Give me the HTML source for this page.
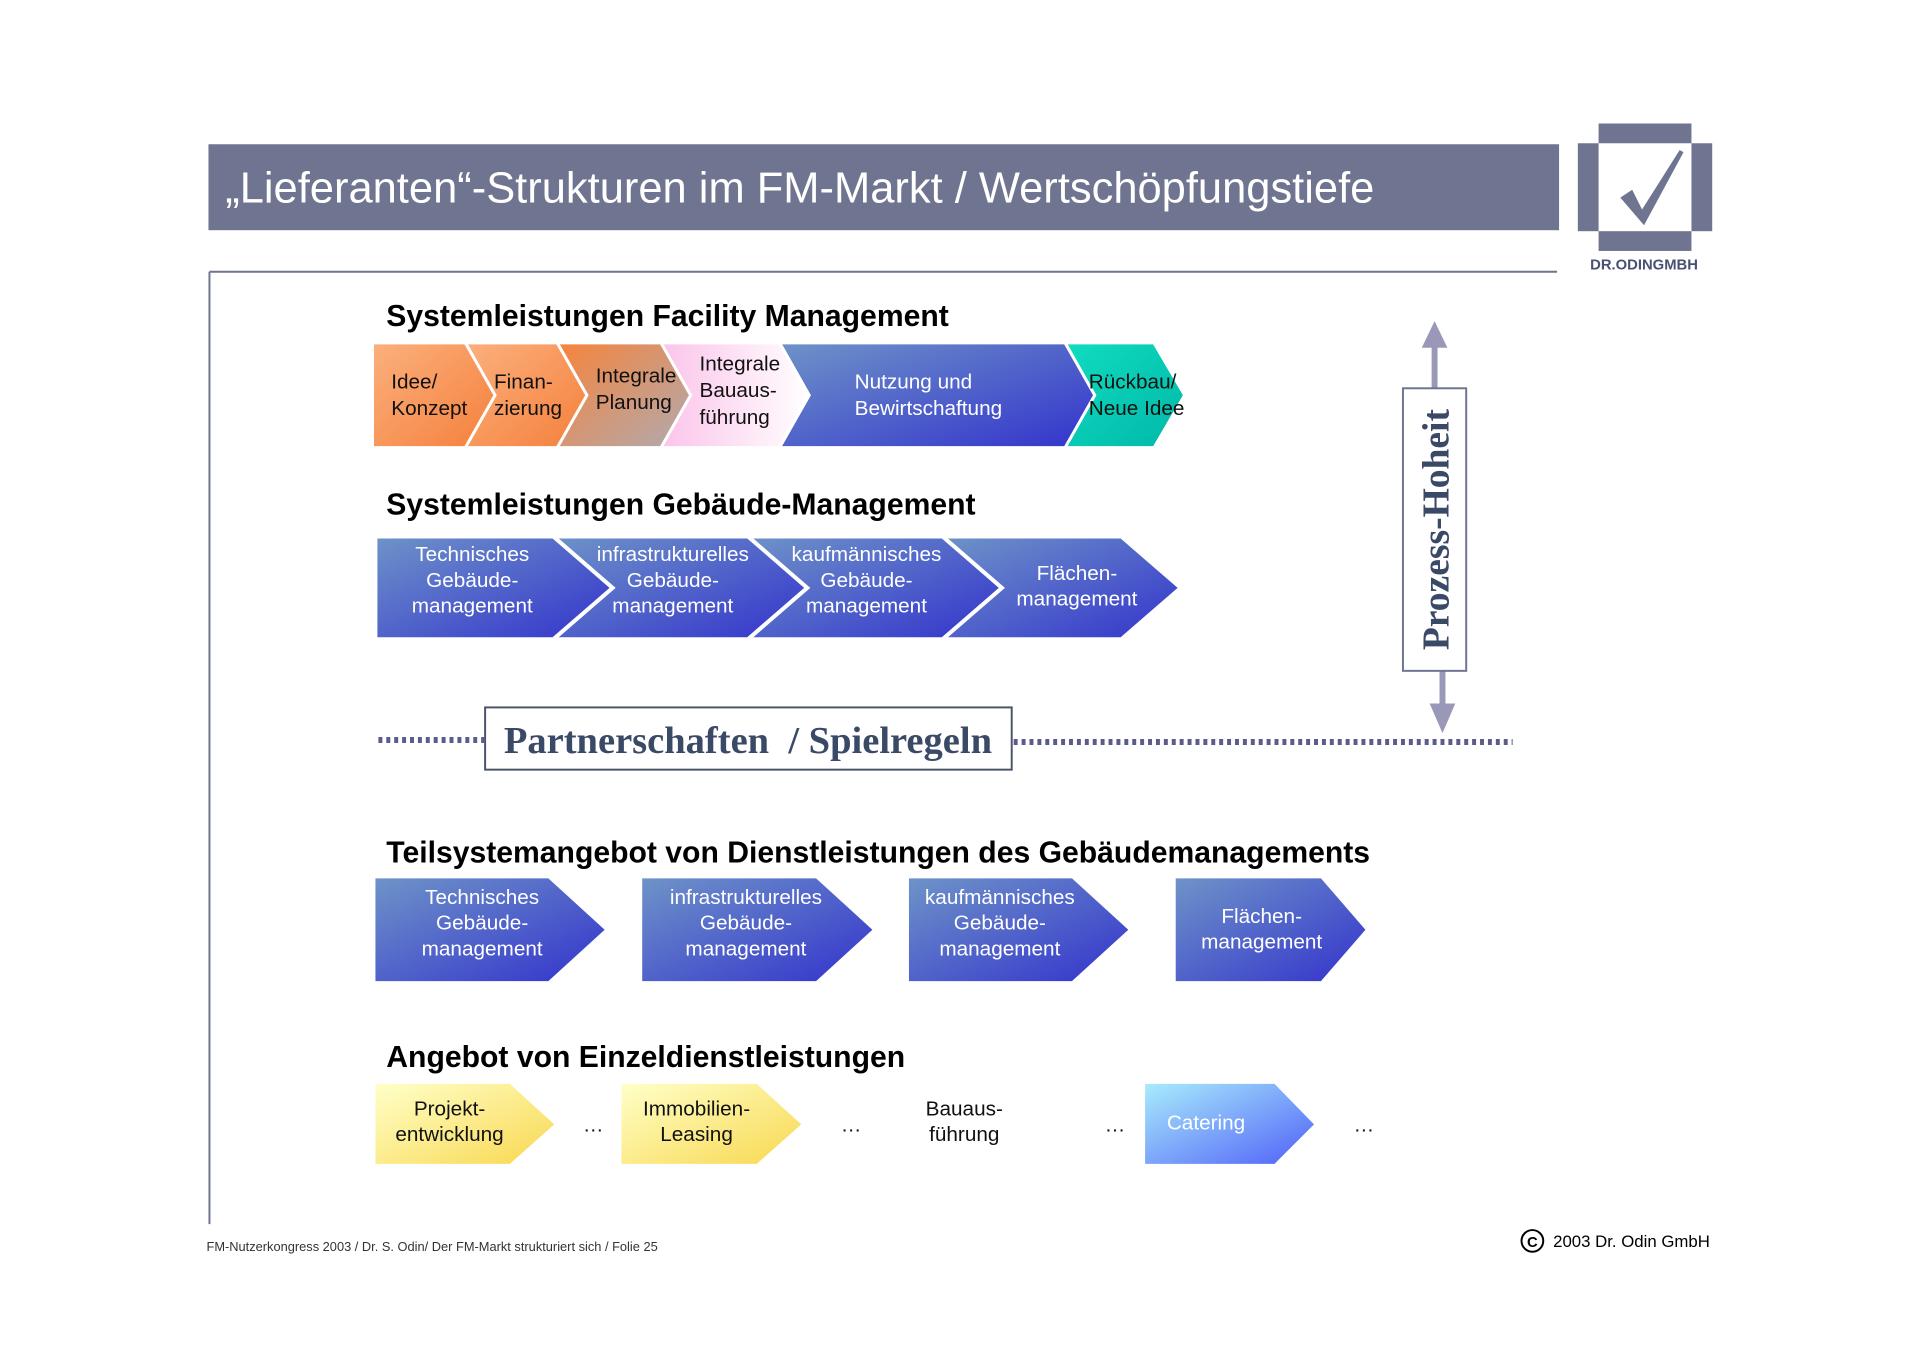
<!DOCTYPE html>
<html><head><meta charset="utf-8"><style>
html,body{margin:0;padding:0;background:#fff;}
svg{display:block;}
.w{fill:#fff;font-size:21px;font-family:"Liberation Sans",sans-serif;}
.k{fill:#111;font-size:21px;font-family:"Liberation Sans",sans-serif;}
.h{font-weight:bold;font-size:30.5px;fill:#000;font-family:"Liberation Sans",sans-serif;}
.s{font-family:"Liberation Sans",sans-serif;}
.serif{font-family:"Liberation Serif",serif;font-weight:bold;fill:#3a4a66;}
</style></head><body>
<svg width="1920" height="1357" viewBox="0 0 1920 1357" xmlns="http://www.w3.org/2000/svg">
<defs>
<linearGradient id="blue" x1="0" y1="0" x2="1" y2="1"><stop offset="0" stop-color="#6e93c8"/><stop offset="1" stop-color="#3333cc"/></linearGradient>
<linearGradient id="or1" x1="0" y1="0" x2="1" y2="1"><stop offset="0" stop-color="#fbb07e"/><stop offset="1" stop-color="#f5803b"/></linearGradient>
<linearGradient id="or3" x1="0" y1="0" x2="1" y2="1"><stop offset="0" stop-color="#f6843c"/><stop offset="1" stop-color="#b0aab0"/></linearGradient>
<linearGradient id="pink" x1="0" y1="0" x2="1" y2="0"><stop offset="0" stop-color="#fbc4ea"/><stop offset="1" stop-color="#ffffff"/></linearGradient>
<linearGradient id="teal" x1="0" y1="0" x2="1" y2="1"><stop offset="0" stop-color="#10dcc0"/><stop offset="1" stop-color="#00b8a8"/></linearGradient>
<linearGradient id="yel" x1="0" y1="0" x2="1" y2="1"><stop offset="0" stop-color="#ffffc8"/><stop offset="1" stop-color="#f8d850"/></linearGradient>
<linearGradient id="cyan" x1="0" y1="0" x2="1" y2="1"><stop offset="0" stop-color="#a8ecfc"/><stop offset="1" stop-color="#5060f8"/></linearGradient>
</defs>
<g transform="scale(0.988)">
<!-- title bar -->
<rect x="211" y="146" width="1367" height="87" fill="#6f7490"/>
<text x="228" y="205" fill="#fff" font-size="44" class="s" style="font-size:44px">„Lieferanten“-Strukturen im FM-Markt / Wertschöpfungstiefe</text>
<!-- logo -->
<rect x="1618" y="125" width="94" height="129" fill="#6f7490"/>
<rect x="1597" y="145" width="136" height="89" fill="#6f7490"/>
<rect x="1618" y="145" width="94" height="89" fill="#fff"/>
<path d="M1640 200 L1652 192 L1662 212 L1700 152 L1704 154 L1664 228 Z" fill="#6f7490"/>
<text x="1664" y="273" text-anchor="middle" class="s" style="font-size:15px;font-weight:bold" fill="#4a5070">DR.ODINGMBH</text>
<!-- frame lines -->
<line x1="212" y1="275" x2="1576" y2="275" stroke="#6f7490" stroke-width="2"/>
<line x1="212" y1="275" x2="212" y2="1239" stroke="#6f7490" stroke-width="2"/>
<!-- section 1 -->
<text x="391" y="330" class="h">Systemleistungen Facility Management</text>
<g stroke="#fff" stroke-width="3">
<polygon points="1078,347 1168,347 1199,400 1168,453 1078,453 1108,400" fill="url(#teal)"/>
<polygon points="789,347 1078,347 1108,400 1078,453 789,453 819,400" fill="url(#blue)"/>
<polygon points="669,347 789,347 819,400 789,453 669,453 699,400" fill="url(#pink)"/>
<polygon points="564,347 669,347 699,400 669,453 564,453 594,400" fill="url(#or3)"/>
<polygon points="471,347 564,347 594,400 564,453 471,453 501,400" fill="url(#or1)"/>
<polygon points="377,347 471,347 501,400 471,453 377,453" fill="url(#or1)"/>
</g>
<text class="k"><tspan x="396" y="393">Idee/</tspan><tspan x="396" y="420">Konzept</tspan></text>
<text class="k"><tspan x="500" y="393">Finan-</tspan><tspan x="500" y="420">zierung</tspan></text>
<text class="k"><tspan x="603" y="387">Integrale</tspan><tspan x="603" y="414">Planung</tspan></text>
<text class="k"><tspan x="708" y="375">Integrale</tspan><tspan x="708" y="402">Bauaus-</tspan><tspan x="708" y="429">führung</tspan></text>
<text class="w"><tspan x="865" y="393">Nutzung und</tspan><tspan x="865" y="420">Bewirtschaftung</tspan></text>
<text class="k"><tspan x="1102" y="393">Rückbau/</tspan><tspan x="1102" y="420">Neue Idee</tspan></text>
<!-- section 2 -->
<text x="391" y="521" class="h">Systemleistungen Gebäude-Management</text>
<g stroke="#fff" stroke-width="4">
<polygon points="954,543 1135,543 1195,595 1135,647 954,647 1014,595" fill="url(#blue)"/>
<polygon points="757,543 954,543 1014,595 954,647 757,647 817,595" fill="url(#blue)"/>
<polygon points="560,543 757,543 817,595 757,647 560,647 620,595" fill="url(#blue)"/>
<polygon points="380,543 560,543 620,595 560,647 380,647" fill="url(#blue)"/>
</g>
<text class="w" text-anchor="middle"><tspan x="478" y="568">Technisches</tspan><tspan x="478" y="594">Gebäude-</tspan><tspan x="478" y="620">management</tspan></text>
<text class="w" text-anchor="middle"><tspan x="681" y="568">infrastrukturelles</tspan><tspan x="681" y="594">Gebäude-</tspan><tspan x="681" y="620">management</tspan></text>
<text class="w" text-anchor="middle"><tspan x="877" y="568">kaufmännisches</tspan><tspan x="877" y="594">Gebäude-</tspan><tspan x="877" y="620">management</tspan></text>
<text class="w" text-anchor="middle"><tspan x="1090" y="587">Flächen-</tspan><tspan x="1090" y="613">management</tspan></text>
<!-- partnerschaften -->
<line x1="383" y1="749" x2="490" y2="749" stroke="#5a5c8c" stroke-width="6" stroke-dasharray="4,4"/>
<line x1="1026" y1="751" x2="1531" y2="751" stroke="#5a5c8c" stroke-width="6" stroke-dasharray="4,4"/>
<rect x="491" y="716" width="533" height="63" fill="#fff" stroke="#4a5468" stroke-width="2"/>
<text x="757" y="762" text-anchor="middle" class="serif" style="font-size:39px" xml:space="preserve">Partnerschaften  / Spielregeln</text>
<!-- Prozess-Hoheit -->
<line x1="1452" y1="345" x2="1452" y2="394" stroke="#9a98b8" stroke-width="6"/>
<polygon points="1439,352 1452,325 1465,352" fill="#9a98b8"/>
<line x1="1460" y1="679" x2="1460" y2="720" stroke="#9a98b8" stroke-width="6"/>
<polygon points="1447,712 1460,742 1473,712" fill="#9a98b8"/>
<rect x="1420" y="393" width="64" height="286" fill="#fff" stroke="#6f7490" stroke-width="2"/>
<text transform="translate(1466,536) rotate(-90)" text-anchor="middle" class="serif" style="font-size:38px">Prozess-Hoheit</text>
<!-- section 3 -->
<text x="391" y="873" class="h">Teilsystemangebot von Dienstleistungen des Gebäudemanagements</text>
<g fill="url(#blue)">
<polygon points="380,889 555,889 612,941 555,993 380,993"/>
<polygon points="650,889 826,889 883,941 826,993 650,993"/>
<polygon points="920,889 1085,889 1142,941 1085,993 920,993"/>
<polygon points="1190,889 1337,889 1382,941 1337,993 1190,993"/>
</g>
<text class="w" text-anchor="middle"><tspan x="488" y="915">Technisches</tspan><tspan x="488" y="941">Gebäude-</tspan><tspan x="488" y="967">management</tspan></text>
<text class="w" text-anchor="middle"><tspan x="755" y="915">infrastrukturelles</tspan><tspan x="755" y="941">Gebäude-</tspan><tspan x="755" y="967">management</tspan></text>
<text class="w" text-anchor="middle"><tspan x="1012" y="915">kaufmännisches</tspan><tspan x="1012" y="941">Gebäude-</tspan><tspan x="1012" y="967">management</tspan></text>
<text class="w" text-anchor="middle"><tspan x="1277" y="934">Flächen-</tspan><tspan x="1277" y="960">management</tspan></text>
<!-- section 4 -->
<text x="391" y="1080" class="h">Angebot von Einzeldienstleistungen</text>
<polygon points="380,1097 516,1097 561,1138 516,1178 380,1178" fill="url(#yel)"/>
<polygon points="629,1097 766,1097 811,1138 766,1178 629,1178" fill="url(#yel)"/>
<polygon points="1159,1097 1290,1097 1330,1138 1290,1178 1159,1178" fill="url(#cyan)"/>
<text class="k" text-anchor="middle"><tspan x="455" y="1129">Projekt-</tspan><tspan x="455" y="1155">entwicklung</tspan></text>
<text class="k" text-anchor="middle"><tspan x="705" y="1129">Immobilien-</tspan><tspan x="705" y="1155">Leasing</tspan></text>
<text class="k" text-anchor="middle"><tspan x="976" y="1129">Bauaus-</tspan><tspan x="976" y="1155">führung</tspan></text>
<text x="1181" y="1143" class="w">Catering</text>
<text x="590" y="1145" class="k">…</text><text x="851" y="1145" class="k">…</text><text x="1118" y="1145" class="k">…</text><text x="1370" y="1145" class="k">…</text>
<!-- footer -->
<text x="209" y="1266" class="s" style="font-size:13px" fill="#333">FM-Nutzerkongress 2003 / Dr. S. Odin/ Der FM-Markt strukturiert sich / Folie 25</text>
<circle cx="1551" cy="1256" r="11" fill="none" stroke="#000" stroke-width="2"/>
<text x="1551" y="1262" text-anchor="middle" class="s" style="font-size:15px;font-weight:bold">C</text>
<text x="1572" y="1262" class="s" style="font-size:17px" fill="#000">2003 Dr. Odin GmbH</text>
</g>
</svg>
</body></html>
